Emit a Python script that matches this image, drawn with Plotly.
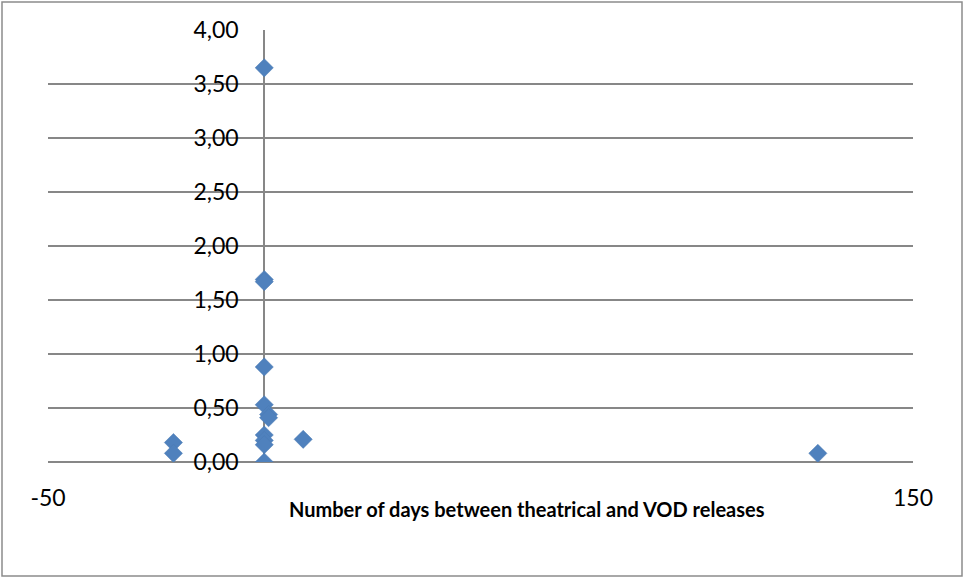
import plotly.graph_objects as go

# Days between theatrical and VOD release, and the corresponding ratio
days = [0, 0, 0, 0, 0, 1, 1, 0, 0, 0, 0, -21, -21, 9, 128]
ratio = [3.65, 1.69, 1.67, 0.88, 0.53, 0.44, 0.41, 0.25, 0.20, 0.16, 0.00,
         0.18, 0.08, 0.21, 0.08]

x_ticks = [-50, 150]
y_ticks = [0, 0.5, 1, 1.5, 2, 2.5, 3, 3.5, 4]
x_title = "Number of days between theatrical and VOD releases"

W, H = 965, 579
ML, MR, MT, MB = 48, 52, 30, 117
pw, ph = W - ML - MR, H - MT - MB

grid = "#878787"
blue = "#4F81BD"

fig = go.Figure(go.Scatter(
    x=days, y=ratio, mode="markers",
    marker=dict(symbol="diamond", size=14, color=blue,
                line=dict(color="#4A7AB3", width=0.5)),
    hoverinfo="x+y",
))


def px_to_paper(px, py):
    return (px - ML) / pw, (H - MB - py) / ph


x0, y0 = px_to_paper(2, 576)
x1, y1 = px_to_paper(962, 2)

fig.update_layout(
    width=W, height=H,
    margin=dict(l=ML, r=MR, t=MT, b=MB, pad=0),
    paper_bgcolor="white", plot_bgcolor="white",
    separators=", ",
    showlegend=False,
    font=dict(family="Lato, Open Sans, sans-serif", color="black"),
    xaxis=dict(
        range=[-50, 150], tickvals=x_ticks, ticktext=[str(v) for v in x_ticks],
        showgrid=False, zeroline=True, zerolinecolor=grid, zerolinewidth=2,
        showline=False, ticks="outside", ticklen=15, tickcolor="rgba(0,0,0,0)",
        tickfont=dict(size=23), fixedrange=True,
    ),
    yaxis=dict(
        range=[0, 4], tickvals=y_ticks, tickformat=".2f",
        showgrid=True, gridcolor=grid, gridwidth=2,
        zeroline=True, zerolinecolor=grid, zerolinewidth=2,
        anchor="free", position=0.25,
        ticks="outside", ticklen=21, tickcolor="rgba(0,0,0,0)",
        tickfont=dict(size=23), fixedrange=True,
    ),
    shapes=[dict(type="rect", xref="paper", yref="paper",
                 x0=x0, y0=y0, x1=x1, y1=y1,
                 line=dict(color="#8C8C8C", width=1.5), layer="below")],
    annotations=[dict(
        text="<b>" + x_title + "</b>", xref="paper", yref="paper",
        x=(527 - ML) / pw, y=px_to_paper(0, 509)[1],
        xanchor="center", yanchor="middle", showarrow=False,
        font=dict(size=20, family="Lato, Open Sans, sans-serif"),
    )],
)

fig.write_html("out.html")
